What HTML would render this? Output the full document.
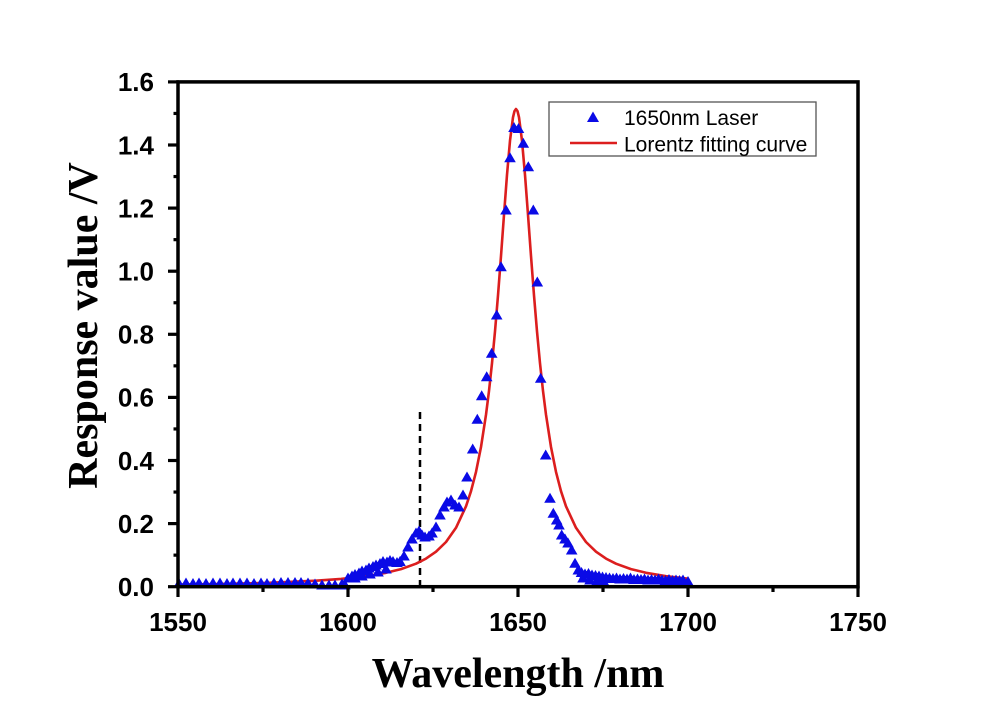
<!DOCTYPE html>
<html>
<head>
<meta charset="utf-8">
<style>
html,body{margin:0;padding:0;background:#fff;}
svg{display:block;}
</style>
</head>
<body>
<svg width="1000" height="707" viewBox="0 0 1000 707" xmlns="http://www.w3.org/2000/svg">
<rect width="1000" height="707" fill="#fff"/>

<!-- dashed line -->
<line x1="420" y1="412" x2="420" y2="585" stroke="#000" stroke-width="2.5" stroke-dasharray="7,5"/>

<!-- Lorentz fit -->
<polyline fill="none" stroke="#dc1e1e" stroke-width="2.6" stroke-linejoin="round" stroke-linecap="round"
points="178,584.6 216,584.0 266,582.9 316,580.7 341,578.9 366,576.2 386,572.8 401,569.1 416,563.7 426,558.6 436,551.7 446,542 456,527.8 466,506.3 471,491.2 476,471.9 481,447 486,414.7 489,390.9 492,363.2 495,331.4 498,295.4 501,256 504,214.8 507,174.9 510,140.7 513,117.3 514.5,111.1 516,109 517.5,111.1 519,117.3 522,140.7 525,174.9 528,214.8 531,256 534,295.4 537,331.4 540,363.2 543,390.9 546,414.7 551,447 556,471.9 561,491.2 566,506.3 576,527.8 586,542 596,551.7 606,558.6 616,563.7 631,569.1 646,572.8 666,576.2 688,578.7"/>

<!-- data triangles -->
<g transform="translate(0,-5.5)" fill="#0a0ae6">
<path d="
M179 583.5l5.8 10h-11.6z M186 583l5.8 10h-11.6z M193 583.5l5.8 10h-11.6z M199 583l5.8 10h-11.6z
M206 583.5l5.8 10h-11.6z M213 583l5.8 10h-11.6z M220 583l5.8 10h-11.6z M227 583.5l5.8 10h-11.6z
M233 583l5.8 10h-11.6z M240 583l5.8 10h-11.6z M247 583l5.8 10h-11.6z M254 583.5l5.8 10h-11.6z
M261 583l5.8 10h-11.6z M267 583.5l5.8 10h-11.6z M274 583l5.8 10h-11.6z M281 582.5l5.8 10h-11.6z
M288 582.5l5.8 10h-11.6z M295 582.5l5.8 10h-11.6z M301 582.5l5.8 10h-11.6z M308 583l5.8 10h-11.6z
M315 584l5.8 10h-11.6z M322 585l5.8 10h-11.6z M329 585l5.8 10h-11.6z M335 585l5.8 10h-11.6z
M342 584l5.8 10h-11.6z M345 585l5.8 10h-11.6z
M348 578l5.8 10h-11.6z M352 576l5.8 10h-11.6z M355 574.5l5.8 10h-11.6z M359 573l5.8 10h-11.6z
M362 571l5.8 10h-11.6z M366 570l5.8 10h-11.6z M369 568l5.8 10h-11.6z M373 566.5l5.8 10h-11.6z
M376 565l5.8 10h-11.6z M380 563.5l5.8 10h-11.6z M383 561.5l5.8 10h-11.6z M387 562l5.8 10h-11.6z
M390 560.5l5.8 10h-11.6z M393 561.5l5.8 10h-11.6z M397 562.5l5.8 10h-11.6z M400 561.5l5.8 10h-11.6z
M355 578l5.8 10h-11.6z M362 576l5.8 10h-11.6z M370 574l5.8 10h-11.6z M378 572l5.8 10h-11.6z M386 569l5.8 10h-11.6z
M404 556l5.8 10h-11.6z M408 547l5.8 10h-11.6z M412 539l5.8 10h-11.6z M416 533l5.8 10h-11.6z
M419 531l5.8 10h-11.6z M422 535l5.8 10h-11.6z M425 537l5.8 10h-11.6z M429 536l5.8 10h-11.6z
M432 533l5.8 10h-11.6z M436 527l5.8 10h-11.6z M440 515l5.8 10h-11.6z M444 507l5.8 10h-11.6z
M447 502l5.8 10h-11.6z M451 500l5.8 10h-11.6z M455 505l5.8 10h-11.6z M459 507l5.8 10h-11.6z
M463 495l5.8 10h-11.6z M467 477l5.8 10h-11.6z M472.7 449l5.8 10h-11.6z M477.3 419.3l5.8 10h-11.6z
M481.7 395.7l5.8 10h-11.6z M486.7 376.7l5.8 10h-11.6z M491.7 353.3l5.8 10h-11.6z M496.7 315l5.8 10h-11.6z
M501 266.7l5.8 10h-11.6z M506 210l5.8 10h-11.6z M510 157.7l5.8 10h-11.6z M514 127.5l5.8 10h-11.6z
M518.5 128.5l5.8 10h-11.6z M523.3 143.3l5.8 10h-11.6z M528.3 166.7l5.8 10h-11.6z M533.3 210l5.8 10h-11.6z
M537.3 282l5.8 10h-11.6z M540.7 378.3l5.8 10h-11.6z M545.7 455l5.8 10h-11.6z M550 498.3l5.8 10h-11.6z
M553.3 513.3l5.8 10h-11.6z M556.7 520l5.8 10h-11.6z M559 525l5.8 10h-11.6z M561.7 535l5.8 10h-11.6z
M565 539l5.8 10h-11.6z M568 543l5.8 10h-11.6z M571.7 550l5.8 10h-11.6z M575 563.3l5.8 10h-11.6z
M578.3 570l5.8 10h-11.6z
M581.5 572.5l5.8 10h-11.6z M585 574l5.8 10h-11.6z M588.5 573.5l5.8 10h-11.6z M592 575l5.8 10h-11.6z
M595.5 575.5l5.8 10h-11.6z M599 576l5.8 10h-11.6z M602.5 577l5.8 10h-11.6z M606 577.5l5.8 10h-11.6z
M609.5 578l5.8 10h-11.6z M613 578.5l5.8 10h-11.6z M616.5 578l5.8 10h-11.6z M620 579l5.8 10h-11.6z
M623.5 578.5l5.8 10h-11.6z M627 579l5.8 10h-11.6z M630.5 578l5.8 10h-11.6z M634 579.5l5.8 10h-11.6z
M637.5 579l5.8 10h-11.6z M641 579.5l5.8 10h-11.6z M644.5 579l5.8 10h-11.6z M648 580l5.8 10h-11.6z
M651.5 579.5l5.8 10h-11.6z M655 580l5.8 10h-11.6z M658.5 579l5.8 10h-11.6z M662 580l5.8 10h-11.6z
M665.5 580.5l5.8 10h-11.6z M669 579.5l5.8 10h-11.6z M672.5 580.5l5.8 10h-11.6z M676 580l5.8 10h-11.6z
M679.5 580.5l5.8 10h-11.6z M683 580l5.8 10h-11.6z M688 581.5l5.8 10h-11.6z
M583 578l5.8 10h-11.6z M590 580l5.8 10h-11.6z M597 581l5.8 10h-11.6z M604 582l5.8 10h-11.6z
"/>
</g>

<!-- axes frame -->
<rect x="178" y="81.9" width="680" height="504.8" fill="none" stroke="#000" stroke-width="3.5"/>

<!-- x ticks -->
<g stroke="#000" stroke-width="3.2">
<line x1="178" y1="586" x2="178" y2="597"/>
<line x1="348" y1="586" x2="348" y2="597"/>
<line x1="518" y1="586" x2="518" y2="597"/>
<line x1="688" y1="586" x2="688" y2="597"/>
<line x1="858" y1="586" x2="858" y2="597"/>
<line x1="263" y1="586" x2="263" y2="592"/>
<line x1="433" y1="586" x2="433" y2="592"/>
<line x1="603" y1="586" x2="603" y2="592"/>
<line x1="773" y1="586" x2="773" y2="592"/>
</g>
<!-- y ticks -->
<g stroke="#000" stroke-width="3.2">
<line x1="168" y1="586.7" x2="179" y2="586.7"/>
<line x1="168" y1="523.6" x2="179" y2="523.6"/>
<line x1="168" y1="460.5" x2="179" y2="460.5"/>
<line x1="168" y1="397.4" x2="179" y2="397.4"/>
<line x1="168" y1="334.3" x2="179" y2="334.3"/>
<line x1="168" y1="271.2" x2="179" y2="271.2"/>
<line x1="168" y1="208.1" x2="179" y2="208.1"/>
<line x1="168" y1="145" x2="179" y2="145"/>
<line x1="168" y1="81.9" x2="179" y2="81.9"/>
<line x1="173.5" y1="555.15" x2="179" y2="555.15"/>
<line x1="173.5" y1="492.05" x2="179" y2="492.05"/>
<line x1="173.5" y1="428.95" x2="179" y2="428.95"/>
<line x1="173.5" y1="365.85" x2="179" y2="365.85"/>
<line x1="173.5" y1="302.75" x2="179" y2="302.75"/>
<line x1="173.5" y1="239.65" x2="179" y2="239.65"/>
<line x1="173.5" y1="176.55" x2="179" y2="176.55"/>
<line x1="173.5" y1="113.45" x2="179" y2="113.45"/>
</g>

<!-- y tick labels -->
<g font-family="'Liberation Sans', Arial, sans-serif" font-weight="bold" font-size="26" text-anchor="end" fill="#000">
<text x="154" y="596">0.0</text>
<text x="154" y="532.9">0.2</text>
<text x="154" y="469.8">0.4</text>
<text x="154" y="406.7">0.6</text>
<text x="154" y="343.6">0.8</text>
<text x="154" y="280.5">1.0</text>
<text x="154" y="217.4">1.2</text>
<text x="154" y="154.3">1.4</text>
<text x="154" y="91.2">1.6</text>
</g>
<!-- x tick labels -->
<g font-family="'Liberation Sans', Arial, sans-serif" font-weight="bold" font-size="26" text-anchor="middle" fill="#000">
<text x="178" y="631">1550</text>
<text x="348" y="631">1600</text>
<text x="518" y="631">1650</text>
<text x="688" y="631">1700</text>
<text x="858" y="631">1750</text>
</g>

<!-- axis titles -->
<text x="518" y="687" font-family="'Liberation Serif', 'Times New Roman', serif" font-weight="bold" font-size="42" text-anchor="middle" fill="#000">Wavelength /nm</text>
<text transform="translate(97,325.5) rotate(-90)" x="0" y="0" font-family="'Liberation Serif', 'Times New Roman', serif" font-weight="bold" font-size="42" text-anchor="middle" fill="#000">Response value /V</text>

<!-- legend -->
<rect x="549" y="102" width="267" height="54" fill="#fff" stroke="#555" stroke-width="1.3"/>
<path d="M593 111.5l6 10.5h-12z" fill="#0a0ae6"/>
<line x1="570" y1="143" x2="617" y2="143" stroke="#dc1e1e" stroke-width="2.6"/>
<g font-family="'Liberation Sans', Arial, sans-serif" font-size="21" fill="#000">
<text x="624" y="125">1650nm Laser</text>
<text x="624" y="151.5">Lorentz fitting curve</text>
</g>
</svg>
</body>
</html>
